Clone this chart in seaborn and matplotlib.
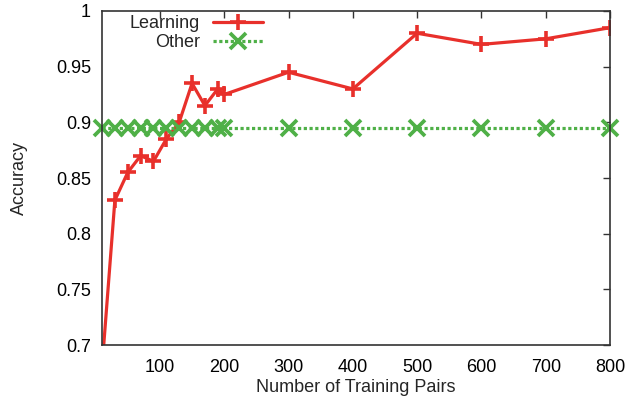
import matplotlib
matplotlib.use("Agg")
import matplotlib.pyplot as plt
import seaborn as sns
import pandas as pd

# Training set sizes and accuracies
pairs = [10, 30, 50, 70, 90, 110, 130, 150, 170, 190, 200, 300, 400, 500, 600, 700, 800]
learning_acc = [0.68, 0.83, 0.855, 0.87, 0.865, 0.885, 0.9, 0.935, 0.915, 0.93, 0.925,
                0.945, 0.93, 0.98, 0.97, 0.975, 0.985]
other_acc = [0.895] * len(pairs)

x_ticks = [100, 200, 300, 400, 500, 600, 700, 800]
y_ticks = [0.7, 0.75, 0.8, 0.85, 0.9, 0.95, 1.0]
y_tick_labels = ["0.7", "0.75", "0.8", "0.85", "0.9", "0.95", "1"]

df = pd.DataFrame({"pairs": pairs, "Learning": learning_acc, "Other": other_acc})

sns.set_theme(style="white")
plt.rcParams["font.family"] = ["Liberation Sans", "DejaVu Sans"]
fs = 13

fig = plt.figure(figsize=(6.27, 4.07), dpi=100)
ax = fig.add_axes([0.1627, 0.1523, 0.973 - 0.1627, 0.973 - 0.1523])

red = "#e8302b"
green = "#4fb047"

sns.lineplot(data=df, x="pairs", y="Learning", ax=ax, color=red, linewidth=2.3,
             marker="+", markersize=12, markeredgewidth=2.6, markeredgecolor=red,
             label="Learning")
sns.lineplot(data=df, x="pairs", y="Other", ax=ax, color=green, linewidth=2.3,
             dashes=(1, 0.8), marker="x", markersize=11.5, markeredgewidth=2.7,
             markeredgecolor=green, label="Other", clip_on=False)

ax.set_xlim(10, 800)
ax.set_ylim(0.7, 1.0)
ax.set_xticks(x_ticks)
ax.set_xticklabels([str(v) for v in x_ticks])
ax.set_yticks(y_ticks)
ax.set_yticklabels(y_tick_labels)

ax.tick_params(direction="in", length=5, width=1, top=True, right=True,
               colors="#333333", labelcolor="black", labelsize=fs)
ax.tick_params(axis="x", pad=10)
ax.tick_params(axis="y", pad=8)
for s in ax.spines.values():
    s.set_color("#333333")
    s.set_linewidth(1.2)

ax.set_xlabel("Number of Training Pairs", fontsize=fs, labelpad=2)
ax.set_ylabel("Accuracy", fontsize=fs, labelpad=20)

leg = ax.legend(loc="upper left", bbox_to_anchor=(0.03, 1.025), markerfirst=False,
                frameon=False, fontsize=fs, handlelength=2.8, handletextpad=0.7,
                labelspacing=0.1, borderpad=0.2)

fig.savefig("out.png", dpi=100)
